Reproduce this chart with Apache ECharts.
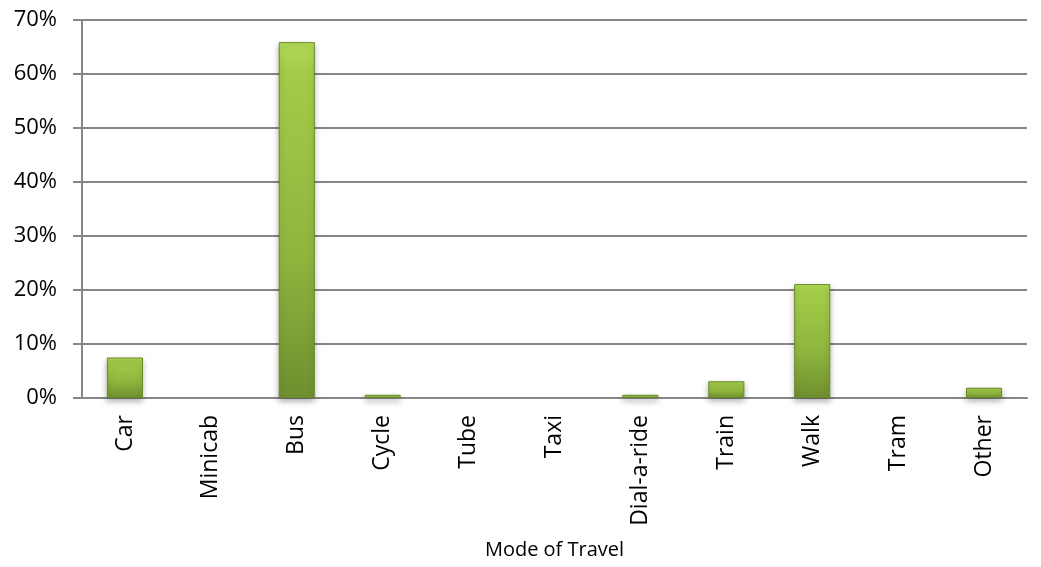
<!DOCTYPE html>
<html>
<head>
<meta charset="utf-8">
<script src="https://cdn.jsdelivr.net/npm/echarts@6/dist/echarts.min.js"></script>
<style>
html,body{margin:0;padding:0;background:#fff;}
#chart{width:1041px;height:567px;}
</style>
</head>
<body>
<div id="chart"></div>
<script>
const categories = ['Car','Minicab','Bus','Cycle','Tube','Taxi','Dial-a-ride','Train','Walk','Tram','Other'];
const shareValues = [7.5, 0, 65.9, 0.6, 0, 0, 0.6, 3.1, 21.1, 0, 1.9];
const yTicks = [0, 10, 20, 30, 40, 50, 60, 70];

const chart = echarts.init(document.getElementById('chart'));
const font = '"Open Sans", sans-serif';
chart.setOption({
  animation: false,
  grid: {left: 82, right: 14, top: 20, bottom: 169, containLabel: false},
  xAxis: {
    type: 'category',
    data: categories,
    name: 'Mode of Travel',
    nameLocation: 'middle',
    nameGap: 142,
    nameTextStyle: {fontFamily: font, fontSize: 20, color: '#000'},
    axisLine: {lineStyle: {color: '#868686', width: 2}},
    axisTick: {show: false},
    axisLabel: {rotate: 90, margin: 17, fontFamily: font, fontSize: 23, color: '#000', interval: 0}
  },
  yAxis: {
    type: 'value',
    min: yTicks[0],
    max: yTicks[yTicks.length - 1],
    interval: 10,
    axisLine: {show: true, lineStyle: {color: '#868686', width: 2}},
    axisTick: {show: true, inside: false, length: 9, lineStyle: {color: '#868686', width: 2}},
    splitLine: {lineStyle: {color: '#868686', width: 2}},
    axisLabel: {formatter: '{value}%', fontFamily: font, fontSize: 22, color: '#000', margin: 25}
  },
  series: [{
    type: 'bar',
    data: shareValues.map(v => v === 0 ? '-' : v),
    barWidth: '42%',
    itemStyle: {
      color: new echarts.graphic.LinearGradient(0, 0, 0, 1, [
        {offset: 0, color: '#b4dc58'},
        {offset: 0.08, color: '#a3cc48'},
        {offset: 0.6, color: '#8fb53e'},
        {offset: 1, color: '#6f8f2f'}
      ]),
      borderColor: '#6a8a2a',
      borderWidth: 1,
      shadowColor: 'rgba(0,0,0,0.3)',
      shadowBlur: 6,
      shadowOffsetY: 3
    }
  }]
});
</script>
</body>
</html>
